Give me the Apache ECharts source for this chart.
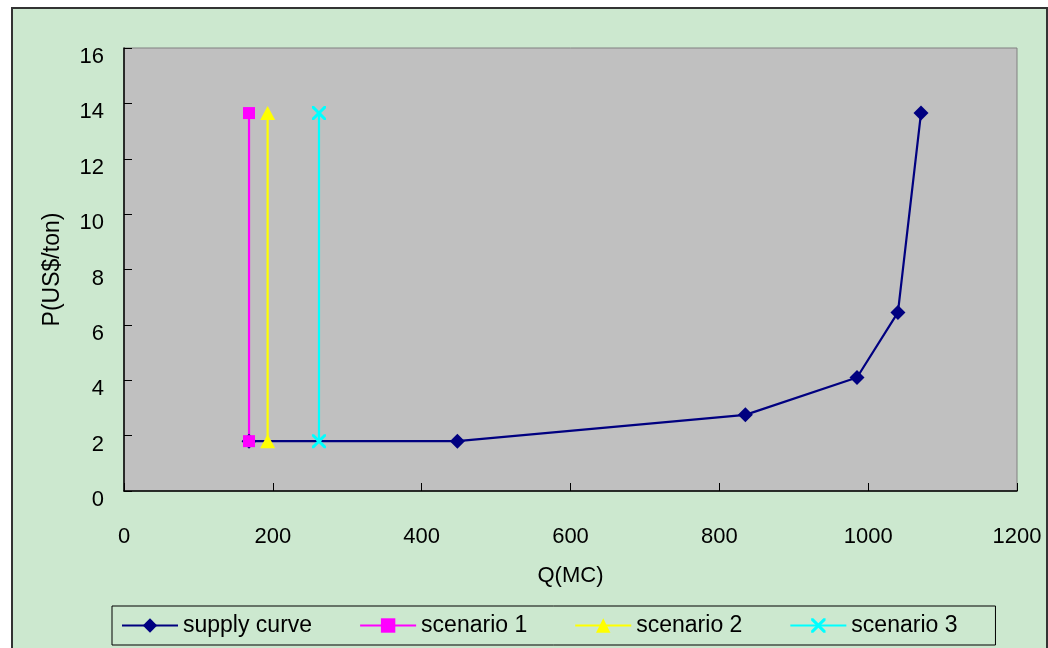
<!DOCTYPE html>
<html>
<head>
<meta charset="utf-8">
<script src="https://cdn.jsdelivr.net/npm/echarts@6/dist/echarts.min.js"></script>
<style>html,body{margin:0;padding:0;background:#fff;}#c{width:1048px;height:648px;}</style>
</head>
<body>
<div id="c"></div>
<script>
// ---- data ----
const seriesNames = ['supply curve', 'scenario 1', 'scenario 2', 'scenario 3'];
const supplyQ = [168, 448, 835, 985, 1040, 1071];
const supplyP = [1.8, 1.8, 2.75, 4.1, 6.45, 13.65];
const scenario1Q = [168, 168];
const scenario1P = [1.8, 13.65];
const scenario2Q = [193, 193];
const scenario2P = [1.8, 13.65];
const scenario3Q = [262, 262];
const scenario3P = [1.8, 13.65];
const xTicks = [0, 200, 400, 600, 800, 1000, 1200];
const yTicks = [0, 2, 4, 6, 8, 10, 12, 14, 16];
const xName = 'Q(MC)';
const yName = 'P(US$/ton)';

const zip = (a, b) => a.map((v, i) => [v, b[i]]);
const xPath = 'path://M0,0 L1.5,0 L5,3.5 L8.5,0 L10,0 L10,1.5 L6.5,5 L10,8.5 L10,10 L8.5,10 L5,6.5 L1.5,10 L0,10 L0,8.5 L3.5,5 L0,1.5 Z';

const font = '"Liberation Sans", Arial, sans-serif';

const chart = echarts.init(document.getElementById('c'));
chart.setOption({
  backgroundColor: '#ffffff',
  animation: false,
  graphic: [{
    type: 'rect', z: -10, silent: true,
    shape: { x: 12, y: 8, width: 1035, height: 660 },
    style: { fill: '#CCE8CF', stroke: '#333333', lineWidth: 2 }
  }],
  grid: {
    left: 124, right: 31, top: 48, bottom: 157,
    show: true, backgroundColor: '#C0C0C0', borderColor: '#808080', borderWidth: 1
  },
  legend: {
    left: 112, top: 606,
    padding: [8, 38, 8, 9],
    borderColor: '#000', borderWidth: 1,
    backgroundColor: '#CCE8CF',
    itemWidth: 56, itemHeight: 18, itemGap: 47,
    textStyle: { fontFamily: font, fontSize: 23, color: '#000' },
    data: seriesNames
  },
  xAxis: {
    type: 'value', min: 0, max: 1200, interval: 200,
    name: xName, nameLocation: 'middle', nameGap: 74,
    nameTextStyle: { fontFamily: font, fontSize: 22, color: '#000' },
    axisLine: { show: true, lineStyle: { color: '#000', width: 1.5 } },
    axisTick: { show: true, inside: true, length: 8, lineStyle: { color: '#000' } },
    axisLabel: { margin: 35, fontFamily: font, fontSize: 22, color: '#000',
      formatter: v => xTicks.includes(v) ? String(v) : '' },
    splitLine: { show: false }
  },
  yAxis: {
    type: 'value', min: 0, max: 16, interval: 2,
    name: yName, nameLocation: 'middle', nameGap: 60, nameRotate: 90,
    nameTextStyle: { fontFamily: font, fontSize: 23, color: '#000' },
    axisLine: { show: true, lineStyle: { color: '#000', width: 1.5 } },
    axisTick: { show: true, inside: true, length: 8, lineStyle: { color: '#000' } },
    axisLabel: { margin: 20, fontFamily: font, fontSize: 22, color: '#000',
      verticalAlign: 'top', lineHeight: 18,
      formatter: v => yTicks.includes(v) ? String(v) : '' },
    splitLine: { show: false }
  },
  series: [
    { name: seriesNames[0], type: 'line', data: zip(supplyQ, supplyP),
      symbol: 'diamond', symbolSize: 15,
      lineStyle: { color: '#000080', width: 2.2 }, itemStyle: { color: '#000080' } },
    { name: seriesNames[1], type: 'line', data: zip(scenario1Q, scenario1P),
      symbol: 'rect', symbolSize: 12,
      lineStyle: { color: '#FF00FF', width: 2.2 }, itemStyle: { color: '#FF00FF' } },
    { name: seriesNames[2], type: 'line', data: zip(scenario2Q, scenario2P),
      symbol: 'triangle', symbolSize: [15, 14],
      lineStyle: { color: '#FFFF00', width: 2.2 }, itemStyle: { color: '#FFFF00' } },
    { name: seriesNames[3], type: 'line', data: zip(scenario3Q, scenario3P),
      symbol: xPath, symbolSize: 14,
      lineStyle: { color: '#00FFFF', width: 2.2 }, itemStyle: { color: '#00FFFF' } }
  ]
});
</script>
</body>
</html>
